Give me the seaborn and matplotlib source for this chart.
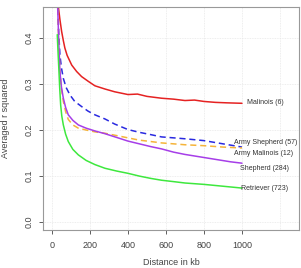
import numpy as np
import pandas as pd
import matplotlib
matplotlib.use("Agg")
import matplotlib.pyplot as plt
import seaborn as sns

# distance (kb) and averaged r^2 per breed
malinois_x = [25, 33, 42, 51, 60, 68, 80, 104, 130, 156, 190, 226, 279, 330, 400, 450, 500, 577, 640, 700, 750, 800, 860, 920, 1000]
malinois_y = [0.56, 0.47, 0.44, 0.414, 0.394, 0.378, 0.362, 0.341, 0.327, 0.316, 0.306, 0.296, 0.289, 0.283, 0.277, 0.278, 0.273, 0.269, 0.267, 0.264, 0.265, 0.262, 0.26, 0.259, 0.258]

army_shep_x = [25, 30, 36, 42, 50, 60, 75, 95, 120, 156, 190, 226, 279, 330, 400, 460, 520, 577, 640, 700, 800, 900, 1000]
army_shep_y = [0.56, 0.47, 0.41, 0.363, 0.335, 0.312, 0.292, 0.276, 0.262, 0.251, 0.241, 0.233, 0.224, 0.213, 0.201, 0.195, 0.19, 0.185, 0.183, 0.181, 0.177, 0.17, 0.163]

army_mal_x = [25, 30, 36, 42, 50, 60, 72, 86, 110, 139, 180, 226, 279, 340, 400, 460, 520, 577, 640, 700, 800, 900, 1000]
army_mal_y = [0.56, 0.47, 0.39, 0.33, 0.29, 0.262, 0.24, 0.223, 0.211, 0.204, 0.2, 0.196, 0.193, 0.188, 0.183, 0.178, 0.175, 0.172, 0.17, 0.168, 0.166, 0.163, 0.161]

shepherd_x = [25, 30, 36, 42, 50, 60, 72, 86, 110, 139, 180, 226, 279, 340, 400, 460, 520, 577, 640, 700, 760, 820, 880, 940, 1000]
shepherd_y = [0.56, 0.47, 0.39, 0.327, 0.293, 0.269, 0.249, 0.233, 0.221, 0.211, 0.204, 0.198, 0.192, 0.184, 0.176, 0.17, 0.164, 0.159, 0.152, 0.147, 0.143, 0.139, 0.135, 0.131, 0.128]

retriever_x = [28, 32, 37, 41, 46, 52, 60, 72, 86, 110, 139, 180, 226, 279, 340, 400, 460, 520, 577, 640, 700, 800, 900, 1000]
retriever_y = [0.407, 0.37, 0.327, 0.29, 0.254, 0.23, 0.211, 0.191, 0.175, 0.158, 0.146, 0.134, 0.125, 0.117, 0.111, 0.106, 0.1, 0.095, 0.091, 0.088, 0.085, 0.082, 0.078, 0.074]

labels = ["Malinois (6)", "Army Shepherd (57)", "Army Malinois (12)", "Shepherd (284)", "Retriever (723)"]

sns.set_theme(style="white")
plt.rcParams['font.family'] = ['Liberation Sans', 'DejaVu Sans']

fig = plt.figure(figsize=(3.01, 2.68), dpi=100)
ax = fig.add_axes([43 / 301, 1 - 230 / 268, 256 / 301, 223 / 268])

series = [
    (malinois_x, malinois_y, "#e52222", "-"),
    (army_shep_x, army_shep_y, "#2a2ae0", (0, (4, 2.5))),
    (army_mal_x, army_mal_y, "#f5b43a", (0, (4, 2.5))),
    (shepherd_x, shepherd_y, "#a63ee8", "-"),
    (retriever_x, retriever_y, "#3ee83e", "-"),
]
for xs, ys, col, ls in series:
    sns.lineplot(x=xs, y=ys, ax=ax, color=col, linestyle=ls, linewidth=1.1, estimator=None)

for gx in range(0, 1201, 200):
    ax.axvline(gx, color="#e8e8e8", lw=0.6, ls=(0, (1, 1)), zorder=0)
for gy in [0.0, 0.1, 0.2, 0.3, 0.4]:
    ax.axhline(gy, color="#e8e8e8", lw=0.6, ls=(0, (1, 1)), zorder=0)

ax.set_xlim(-47, 1300)
ax.set_ylim(-0.017, 0.467)
ax.set_xticks([0, 200, 400, 600, 800, 1000])
ax.set_yticks([0.0, 0.1, 0.2, 0.3, 0.4])
ax.set_yticklabels(["0.0", "0.1", "0.2", "0.3", "0.4"], rotation=90, va="center")
ax.tick_params(axis="both", labelsize=6.5, colors="#444444", length=3, width=0.6,
               direction="out", bottom=True, left=True)
ax.tick_params(axis="x", pad=5)
ax.tick_params(axis="y", pad=3.5)
for s in ax.spines.values():
    s.set_color("#999999")
    s.set_linewidth(0.8)

# labels next to curve ends
lab_pos = [(1026, 0.259, "left"), (1289, 0.173, "right"), (1268, 0.150, "right"),
           (1247, 0.117, "right"), (1242, 0.074, "right")]
for (lx, ly, ha), txt in zip(lab_pos, labels):
    ax.text(lx, ly, txt, fontsize=5, ha=ha, va="center", color="#333333")

ax.set_ylabel("Averaged r squared", fontsize=6.5, color="#444444", labelpad=11)
ax.set_xlabel("Distance in kb", fontsize=6.5, color="#444444", labelpad=6)

fig.savefig("out.png", dpi=100)
